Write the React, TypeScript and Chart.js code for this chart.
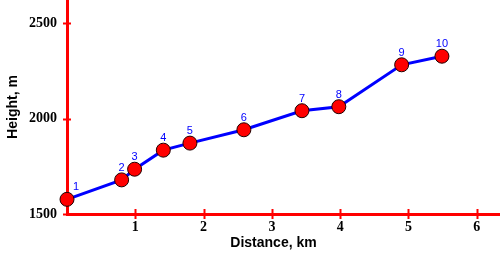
import React, { useEffect, useRef } from 'react';
import { Chart, registerables } from 'chart.js';

Chart.register(...registerables);

const distances = [0, 0.8, 0.99, 1.41, 1.8, 2.59, 3.44, 3.98, 4.9, 5.49];
const heights = [1577, 1679, 1735, 1835, 1872, 1942, 2042, 2063, 2283, 2328];
const pointLabels = ['1', '2', '3', '4', '5', '6', '7', '8', '9', '10'];
const xTicks = [1, 2, 3, 4, 5, 6];
const yTicks = [1500, 2000, 2500];
const xTitle = 'Distance, km';
const yTitle = 'Height, m';

const RED = '#ff0000';
const BLUE = '#0000ff';

const zeroPad = (s: any) => {
  s.paddingTop = 0;
  s.paddingBottom = 0;
  s.paddingLeft = 0;
  s.paddingRight = 0;
};

const decorPlugin = {
  id: 'decor',
  afterDraw(chart: any) {
    const ctx = chart.ctx;
    const xs = chart.scales.x;
    const ys = chart.scales.y;
    const area = chart.chartArea;
    ctx.save();
    ctx.strokeStyle = RED;
    ctx.lineWidth = 2;
    xTicks.forEach((v) => {
      const px = Math.round(xs.getPixelForValue(v)) + 0.5;
      ctx.beginPath();
      ctx.moveTo(px, area.bottom - 5);
      ctx.lineTo(px, area.bottom + 5);
      ctx.stroke();
    });
    yTicks.forEach((v) => {
      const py = Math.round(ys.getPixelForValue(v)) + 0.5;
      ctx.beginPath();
      ctx.moveTo(area.left - 4, py);
      ctx.lineTo(area.left + 4, py);
      ctx.stroke();
    });
    // x axis title
    ctx.fillStyle = '#000';
    ctx.font = 'bold 14px "Liberation Sans", Arial, sans-serif';
    ctx.textAlign = 'center';
    ctx.textBaseline = 'middle';
    ctx.fillText(xTitle, (area.left + area.right) / 2 - 10, area.bottom + 29);
    ctx.restore();
  },
  afterDatasetsDraw(chart: any) {
    const ctx = chart.ctx;
    const meta = chart.getDatasetMeta(0);
    ctx.save();
    ctx.fillStyle = BLUE;
    ctx.font = '11px "Liberation Sans", Arial, sans-serif';
    ctx.textAlign = 'center';
    ctx.textBaseline = 'middle';
    meta.data.forEach((el: any, i: number) => {
      const dx = i === 0 ? 9 : 0;
      ctx.fillText(pointLabels[i], el.x + dx, el.y - 12);
    });
    ctx.restore();
  },
};

export default function App() {
  const ref = useRef<HTMLCanvasElement | null>(null);
  useEffect(() => {
    if (!ref.current) return;
    const chart = new Chart(ref.current, {
      type: 'scatter',
      data: {
        datasets: [
          {
            data: distances.map((d, i) => ({ x: d, y: heights[i] })),
            showLine: true,
            borderColor: BLUE,
            borderWidth: 3,
            pointRadius: 7,
            pointBackgroundColor: RED,
            pointBorderColor: '#200000',
            pointBorderWidth: 1,
            clip: false as any,
          } as any,
        ],
      },
      options: {
        animation: false,
        responsive: false,
        devicePixelRatio: 1,
        layout: { padding: 0, autoPadding: false },
        plugins: { legend: { display: false }, tooltip: { enabled: false } },
        scales: {
          x: {
            type: 'linear',
            min: 0,
            max: 6.34,
            grid: { display: false, drawTicks: false },
            border: { display: true, color: RED, width: 3 },
            afterBuildTicks: (s: any) => {
              s.ticks = xTicks.map((v) => ({ value: v }));
            },
            afterFit: (s: any) => {
              s.height = 41;
              zeroPad(s);
            },
            ticks: {
              color: '#000',
              padding: 5,
              maxRotation: 0,
              autoSkip: false,
              callback: (v: any) => String(v),
              font: { family: '"Liberation Serif", "Times New Roman", serif', weight: 'bold', size: 14 },
            },
          },
          y: {
            type: 'linear',
            min: 1500,
            max: 2623,
            grid: { display: false, drawTicks: false },
            border: { display: true, color: RED, width: 3 },
            afterBuildTicks: (s: any) => {
              s.ticks = yTicks.map((v) => ({ value: v }));
            },
            afterFit: (s: any) => {
              s.width = 67;
              zeroPad(s);
            },
            title: {
              display: true,
              text: yTitle,
              color: '#000',
              padding: { top: 5, bottom: 0 },
              font: { family: '"Liberation Sans", Arial, sans-serif', weight: 'bold', size: 14 },
            },
            ticks: {
              color: '#000',
              padding: 10,
              callback: (v: any) => String(v),
              font: { family: '"Liberation Serif", "Times New Roman", serif', weight: 'bold', size: 14 },
            },
          },
        },
      },
      plugins: [decorPlugin],
    } as any);
    return () => chart.destroy();
  }, []);
  return (
    <div style={{ position: 'absolute', left: 0, top: 0, width: 500, height: 255, background: '#fff' }}>
      <canvas ref={ref} width={500} height={255} />
    </div>
  );
}
